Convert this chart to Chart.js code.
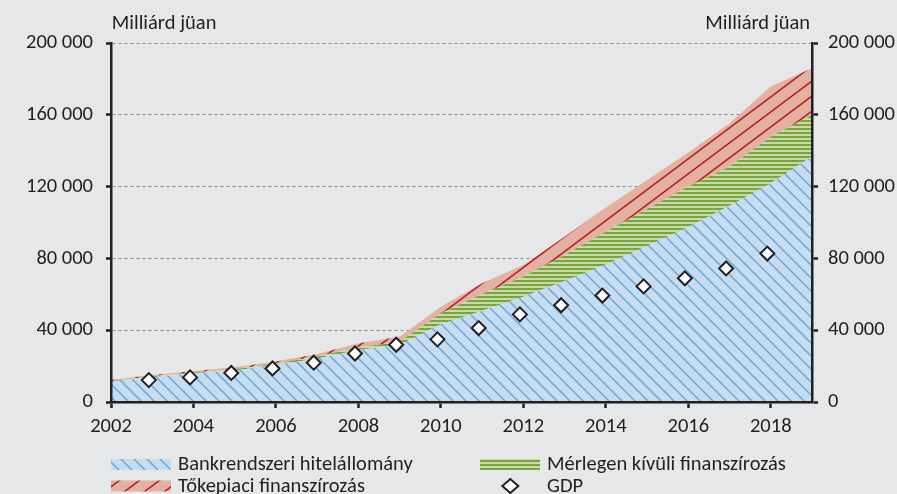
<!DOCTYPE html>
<html>
<head>
<meta charset="utf-8">
<script src="https://cdn.jsdelivr.net/npm/chart.js@4.4.0/dist/chart.umd.min.js"></script>
<style>
  html, body { margin: 0; padding: 0; background: #e6e7e9; }
  #chart { display: block; }
</style>
</head>
<body>
<canvas id="chart" width="897" height="494"></canvas>
<script>
// adatok (milliárd jüan), év eleji / év végi állomány
const areaX = [2002, 2003, 2004, 2005, 2006, 2007, 2008, 2009, 2010, 2011, 2012, 2013, 2014, 2015, 2016, 2017, 2018, 2019];
const bankLoans = [11300, 13800, 16000, 17500, 20600, 24300, 29000, 31800, 43300, 50900, 58700, 67400, 76600, 86900, 97500, 109400, 121800, 136700];
const offBalance = [300, 500, 500, 700, 800, 1000, 1500, 1800, 6100, 9300, 11100, 14500, 18300, 20600, 22500, 21700, 26000, 23200];
const capitalMarket = [600, 700, 800, 1100, 1100, 1400, 2200, 2800, 3700, 5900, 6500, 10200, 13500, 16200, 19000, 24200, 27900, 26000];

// GDP, december végén ábrázolva
const gdpYears = [2002, 2003, 2004, 2005, 2006, 2007, 2008, 2009, 2010, 2011, 2012, 2013, 2014, 2015, 2016, 2017];
const gdp = [12200, 13700, 16200, 18700, 21900, 27000, 31900, 34900, 41200, 48800, 53900, 59300, 64400, 68900, 74400, 82700];

const seriesLabels = ['Bankrendszeri hitelállomány', 'Mérlegen kívüli finanszírozás', 'Tőkepiaci finanszírozás', 'GDP'];
const xTicks = [2002, 2004, 2006, 2008, 2010, 2012, 2014, 2016, 2018];
const yTicks = [0, 40000, 80000, 120000, 160000, 200000];
const unitLabel = 'Milliárd jüan';

const dark = '#231f20';
const fontFamily = 'Carlito, Calibri, Lato, sans-serif';
const tickFont = { family: fontFamily, size: 20.5 };

// mintázatok a kitöltéshez
function makePattern(kind) {
    const c = document.createElement('canvas');
    let g;
    if (kind === 'blue') {
        c.width = 13; c.height = 13;
        g = c.getContext('2d');
        g.fillStyle = '#c6dcf0';
        g.fillRect(0, 0, 13, 13);
        g.strokeStyle = '#6ea6d4';
        g.lineWidth = 1.5;
        g.beginPath();
        for (const k of [-13, 0, 13]) {
            g.moveTo(k - 2, -2);
            g.lineTo(k + 15, 15);
        }
        g.stroke();
    } else if (kind === 'red') {
        const w = 20, h = 15;
        c.width = w; c.height = h;
        g = c.getContext('2d');
        g.fillStyle = '#e3b0a1';
        g.fillRect(0, 0, w, h);
        g.strokeStyle = '#b5232b';
        g.lineWidth = 1.6;
        g.beginPath();
        for (const k of [-1, 0, 1]) {
            g.moveTo(-2, h + 2 * h / w + k * h);
            g.lineTo(w + 2, h - (w + 2) * h / w + k * h);
        }
        g.stroke();
    } else {
        c.width = 4; c.height = 4;
        g = c.getContext('2d');
        g.fillStyle = '#c6dca3';
        g.fillRect(0, 0, 4, 4);
        g.fillStyle = '#79a441';
        g.fillRect(0, 0, 4, 2);
    }
    return g.createPattern(c, 'repeat');
}

const bluePat = makePattern('blue');
const greenPat = makePattern('green');
const redPat = makePattern('red');

function toPoints(xs, ys) {
    return ys.map((v, i) => ({ x: xs[i], y: v }));
}

function fmt(v) {
    return String(v).replace(/\B(?=(\d{3})+(?!\d))/g, ' ');
}

function diamond(ctx, cx, cy, rx, ry) {
    ctx.beginPath();
    ctx.moveTo(cx, cy - ry);
    ctx.lineTo(cx + rx, cy);
    ctx.lineTo(cx, cy + ry);
    ctx.lineTo(cx - rx, cy);
    ctx.closePath();
    ctx.fillStyle = '#ffffff';
    ctx.fill();
    ctx.lineWidth = 2;
    ctx.strokeStyle = dark;
    ctx.stroke();
}

// mértékegység a tengelyek fölött
const unitTitles = {
    id: 'unitTitles',
    afterDraw(chart) {
        const ctx = chart.ctx;
        const area = chart.chartArea;
        ctx.save();
        ctx.font = '20.5px ' + fontFamily;
        ctx.fillStyle = dark;
        ctx.textBaseline = 'alphabetic';
        ctx.textAlign = 'left';
        ctx.fillText(unitLabel, area.left + 0.7, 29.3);
        ctx.textAlign = 'right';
        ctx.fillText(unitLabel, area.right - 2, 29.3);
        ctx.restore();
    }
};

// jelmagyarázat két oszlopban: [minta bal széle, minta teteje]
const legendSlots = [[111, 459], [480, 459], [111, 480.5], [480, 480.5]];
const twoColLegend = {
    id: 'twoColLegend',
    afterDraw(chart) {
        const ctx = chart.ctx;
        ctx.save();
        chart.data.datasets.forEach((ds, i) => {
            const [sx, sy] = legendSlots[i];
            if (ds.pointStyle === 'rectRot') {
                diamond(ctx, sx + 30.3, sy + 5.5, 8, 7);
            } else {
                ctx.fillStyle = ds.backgroundColor;
                ctx.fillRect(sx, sy, 60, 11);
            }
            ctx.font = '20.5px ' + fontFamily;
            ctx.fillStyle = dark;
            ctx.textAlign = 'left';
            ctx.textBaseline = 'alphabetic';
            ctx.fillText(ds.label, sx + 67, sy + 11.3);
        });
        ctx.restore();
    }
};

const areaStyle = { borderWidth: 0, pointRadius: 0, pointHoverRadius: 0, tension: 0, order: 2 };

const chart = new Chart(document.getElementById('chart'), {
    type: 'line',
    data: {
        datasets: [
            Object.assign({ label: seriesLabels[0], data: toPoints(areaX, bankLoans), backgroundColor: bluePat, fill: 'origin' }, areaStyle),
            Object.assign({ label: seriesLabels[1], data: toPoints(areaX, offBalance), backgroundColor: greenPat, fill: '-1' }, areaStyle),
            Object.assign({ label: seriesLabels[2], data: toPoints(areaX, capitalMarket), backgroundColor: redPat, fill: '-1' }, areaStyle),
            {
                label: seriesLabels[3],
                data: toPoints(gdpYears.map(y => y + 11 / 12), gdp),
                stack: 'gdp',
                showLine: false,
                fill: false,
                pointStyle: 'rectRot',
                pointRadius: 7,
                pointBackgroundColor: '#ffffff',
                pointBorderColor: dark,
                pointBorderWidth: 2,
                order: 0
            }
        ]
    },
    options: {
        responsive: false,
        animation: false,
        devicePixelRatio: 1,
        layout: { padding: { top: 43, left: 0, right: 0, bottom: 0 } },
        plugins: { legend: { display: false }, tooltip: { enabled: false } },
        scales: {
            x: {
                type: 'linear',
                min: 2002,
                max: 2019,
                afterBuildTicks: s => { s.ticks = xTicks.map(v => ({ value: v })); },
                afterFit: s => { s.height = 92; },
                ticks: { callback: v => String(v), color: dark, font: tickFont, padding: 7, maxRotation: 0, autoSkip: false },
                grid: { drawOnChartArea: false, tickLength: 6, tickWidth: 2.5, tickColor: dark, tickBorderDash: [] },
                border: { color: dark, width: 2.5, z: 1 }
            },
            y: {
                stacked: true,
                min: 0,
                max: 200000,
                afterBuildTicks: s => { s.ticks = yTicks.map(v => ({ value: v })); },
                afterFit: s => { s.width = 111; },
                ticks: { callback: fmt, color: dark, font: tickFont, padding: 13 },
                grid: { color: '#8a8a8a', lineWidth: 1, tickLength: 5, tickWidth: 2.5, tickColor: dark, tickBorderDash: [] },
                border: { color: dark, width: 2.5, dash: [3, 3], z: 1 }
            },
            y2: {
                position: 'right',
                min: 0,
                max: 200000,
                afterBuildTicks: s => { s.ticks = yTicks.map(v => ({ value: v })); },
                afterFit: s => { s.width = 85; },
                ticks: { callback: fmt, color: dark, font: tickFont, padding: 10 },
                grid: { drawOnChartArea: false, tickLength: 6, tickWidth: 2.5, tickColor: dark, tickBorderDash: [] },
                border: { color: dark, width: 2.5, z: 1 }
            }
        }
    },
    plugins: [unitTitles, twoColLegend]
});
</script>
</body>
</html>
